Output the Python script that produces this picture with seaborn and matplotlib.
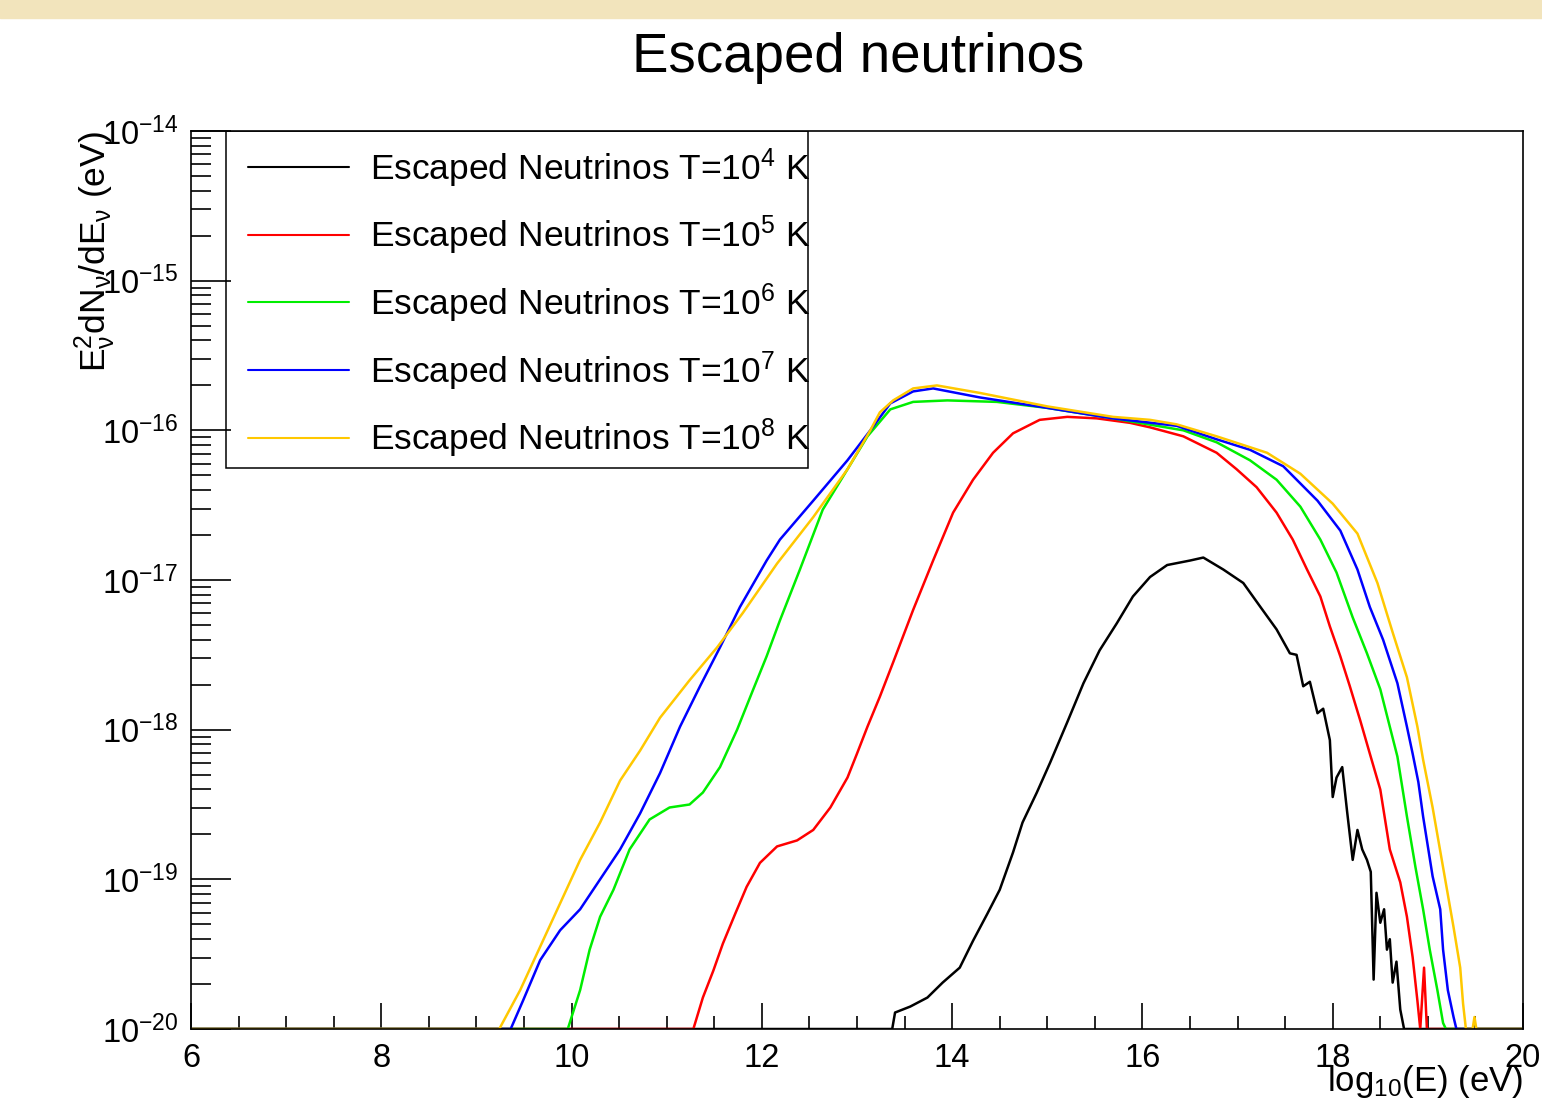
import numpy as np
import pandas as pd
import matplotlib
matplotlib.use("Agg")
import matplotlib.pyplot as plt
import seaborn as sns
from matplotlib.patches import Rectangle
from matplotlib.ticker import MultipleLocator, LogLocator, NullFormatter, LogFormatterSciNotation

# log10(E/eV) and log10(E^2 dN/dE / eV); nan = empty bin (drawn on the floor)
nan = np.nan

x_t4 = [6.0, 13.37, 13.40, 13.56, 13.74, 13.90, 14.08, 14.22, 14.37, 14.50, 14.64, 14.74, 14.89,
        15.03, 15.21, 15.38, 15.55, 15.73, 15.90, 16.08, 16.26, 16.50, 16.64, 16.85, 17.06, 17.24,
        17.41, 17.55, 17.62, 17.69, 17.76, 17.84, 17.90, 17.97, 18.00, 18.04, 18.10, 18.15, 18.21,
        18.26, 18.31, 18.36, 18.40, 18.43, 18.46, 18.50, 18.54, 18.57, 18.60, 18.63, 18.67, 18.71,
        18.75, 20.0]
y_t4 = [nan, nan, -19.89, -19.85, -19.79, -19.69, -19.59, -19.41, -19.23, -19.07, -18.82, -18.62, -18.42,
        -18.22, -17.95, -17.69, -17.47, -17.29, -17.11, -16.98, -16.90, -16.87, -16.85, -16.93, -17.02, -17.18,
        -17.33, -17.49, -17.50, -17.71, -17.68, -17.89, -17.86, -18.07, -18.45, -18.32, -18.25, -18.54, -18.87,
        -18.67, -18.80, -18.87, -18.95, -19.67, -19.09, -19.29, -19.20, -19.47, -19.40, -19.69, -19.55, -19.87,
        nan, nan]

x_t5 = [6.0, 11.28, 11.38, 11.49, 11.59, 11.72, 11.84, 11.98, 12.16, 12.37, 12.54, 12.72, 12.90,
        13.00, 13.11, 13.24, 13.38, 13.59, 13.80, 14.01, 14.22, 14.43, 14.64, 14.92, 15.21, 15.52,
        15.87, 16.08, 16.43, 16.78, 16.99, 17.20, 17.41, 17.58, 17.73, 17.87, 17.97, 18.08, 18.18,
        18.29, 18.39, 18.50, 18.60, 18.71, 18.78, 18.84, 18.89, 18.92, 18.96, 18.99, 20.0]
y_t5 = [nan, nan, -19.79, -19.61, -19.43, -19.23, -19.05, -18.89, -18.78, -18.74, -18.67, -18.52, -18.32,
        -18.16, -17.98, -17.78, -17.55, -17.20, -16.87, -16.55, -16.33, -16.15, -16.02, -15.93, -15.91, -15.92,
        -15.95, -15.98, -16.04, -16.15, -16.26, -16.38, -16.55, -16.73, -16.93, -17.11, -17.31, -17.51, -17.71,
        -17.94, -18.16, -18.40, -18.80, -19.02, -19.25, -19.52, -19.81, nan, -19.59, nan, nan]

x_t6 = [6.0, 9.96, 10.09, 10.19, 10.30, 10.44, 10.61, 10.82, 11.03, 11.24, 11.38, 11.56, 11.74,
        11.91, 12.05, 12.19, 12.40, 12.64, 12.90, 13.11, 13.35, 13.59, 13.95, 14.47, 15.00, 15.69,
        16.43, 16.78, 17.13, 17.41, 17.66, 17.87, 18.04, 18.21, 18.36, 18.50, 18.60, 18.68, 18.78,
        18.87, 18.95, 19.02, 19.10, 19.16, 19.19, 20.0]
y_t6 = [nan, nan, -19.74, -19.47, -19.25, -19.07, -18.80, -18.60, -18.52, -18.50, -18.42, -18.25, -18.00,
        -17.73, -17.51, -17.27, -16.93, -16.53, -16.26, -16.04, -15.86, -15.81, -15.80, -15.81, -15.85, -15.92,
        -16.00, -16.08, -16.20, -16.33, -16.51, -16.73, -16.95, -17.25, -17.49, -17.73, -17.98, -18.18, -18.58,
        -18.92, -19.20, -19.47, -19.74, -19.96, nan, nan]

x_t7 = [6.0, 9.36, 9.49, 9.67, 9.88, 10.09, 10.30, 10.51, 10.72, 10.93, 11.14, 11.35, 11.56,
        11.77, 12.05, 12.19, 12.54, 12.90, 13.14, 13.35, 13.59, 13.80, 14.29, 15.00, 15.69, 16.36,
        16.78, 17.13, 17.48, 17.84, 18.08, 18.26, 18.39, 18.53, 18.68, 18.78, 18.84, 18.90, 18.95,
        19.05, 19.13, 19.16, 19.21, 19.27, 19.30, 20.0]
y_t7 = [nan, nan, -19.81, -19.54, -19.34, -19.20, -19.00, -18.80, -18.56, -18.29, -17.98, -17.71, -17.45,
        -17.18, -16.87, -16.73, -16.47, -16.20, -16.00, -15.82, -15.74, -15.72, -15.78, -15.85, -15.92, -15.97,
        -16.06, -16.13, -16.24, -16.47, -16.67, -16.93, -17.18, -17.40, -17.69, -17.98, -18.16, -18.35, -18.58,
        -18.98, -19.20, -19.47, -19.74, -19.92, nan, nan]

x_t8 = [6.0, 9.24, 9.46, 9.67, 9.88, 10.09, 10.30, 10.51, 10.72, 10.93, 11.24, 11.53, 11.80,
        12.16, 12.54, 12.90, 13.14, 13.24, 13.38, 13.59, 13.84, 14.29, 15.00, 15.69, 16.08, 16.36,
        16.78, 17.31, 17.66, 18.00, 18.26, 18.47, 18.63, 18.78, 18.89, 18.95, 19.05, 19.16, 19.27,
        19.34, 19.37, 19.40, 19.47, 19.49, 19.51, 20.0]
y_t8 = [nan, nan, -19.74, -19.45, -19.16, -18.87, -18.62, -18.34, -18.14, -17.92, -17.67, -17.45, -17.22,
        -16.89, -16.58, -16.26, -16.00, -15.88, -15.80, -15.72, -15.70, -15.75, -15.84, -15.91, -15.93, -15.96,
        -16.04, -16.15, -16.29, -16.49, -16.69, -17.02, -17.35, -17.65, -17.98, -18.20, -18.52, -18.92, -19.32,
        -19.59, -19.83, nan, nan, -19.92, nan, nan]

labels = [r"Escaped Neutrinos T=10$^{4}$ K", r"Escaped Neutrinos T=10$^{5}$ K",
          r"Escaped Neutrinos T=10$^{6}$ K", r"Escaped Neutrinos T=10$^{7}$ K",
          r"Escaped Neutrinos T=10$^{8}$ K"]
colors = ["black", "#ff0000", "#00ee00", "#0000ff", "#ffc800"]
series = [(x_t4, y_t4), (x_t5, y_t5), (x_t6, y_t6), (x_t7, y_t7), (x_t8, y_t8)]

ymin, ymax = 1e-20, 1e-14

sns.set_style("ticks")
plt.rcParams["font.family"] = ["Liberation Sans", "DejaVu Sans"]
plt.rcParams["mathtext.fontset"] = "custom"
plt.rcParams["mathtext.rm"] = "Liberation Sans"
plt.rcParams["mathtext.it"] = "Liberation Sans:italic"
plt.rcParams["mathtext.bf"] = "Liberation Sans:bold"
plt.rcParams["mathtext.default"] = "regular"
for k in ["axes.edgecolor", "text.color", "axes.labelcolor", "xtick.color", "ytick.color"]:
    plt.rcParams[k] = "black"

fig = plt.figure(figsize=(15.42, 11.13), dpi=100)
fig.patches.append(Rectangle((0, 1 - 18 / 1113), 1, 18 / 1113, transform=fig.transFigure,
                             color="#f2e4bc", zorder=0))
ax = fig.add_axes([191 / 1542, 1 - 1029 / 1113, 1332 / 1542, 898 / 1113])
ax.set_yscale("log")

for (xs, ys), col, lab in zip(series, colors, labels):
    logy = np.nan_to_num(np.array(ys, float), nan=np.log10(ymin))
    df = pd.DataFrame({"logE": xs, "flux": 10.0 ** logy})
    sns.lineplot(data=df, x="logE", y="flux", color=col, lw=1.8, label=lab, ax=ax,
                 sort=False, estimator=None)

ax.set_xlim(6, 20)
ax.set_ylim(ymin, ymax)

ax.xaxis.set_major_locator(MultipleLocator(2))
ax.xaxis.set_minor_locator(MultipleLocator(0.5))
ax.yaxis.set_major_locator(LogLocator(base=10, numticks=20))
ax.yaxis.set_major_formatter(LogFormatterSciNotation())
ax.yaxis.set_minor_locator(LogLocator(base=10, subs=np.arange(2, 10), numticks=100))
ax.yaxis.set_minor_formatter(NullFormatter())
ax.tick_params(axis="x", which="major", direction="in", length=18.7, width=1.2, top=False,
               labelsize=23.5, pad=10)
ax.tick_params(axis="x", which="minor", direction="in", length=9.4, width=1.2, top=False)
ax.tick_params(axis="y", which="major", direction="in", length=29, width=1.2, right=False,
               labelsize=23.5, pad=9)
ax.tick_params(axis="y", which="minor", direction="in", length=14.5, width=1.2, right=False)
for s in ax.spines.values():
    s.set_linewidth(1.2)
    s.set_color("black")

ax.set_xlabel(r"log$_{10}$(E) (eV)", loc="right", fontsize=25)
ax.xaxis.set_label_coords(1.0, -0.038)
ax.set_ylabel(r"E$_{ν}^{2}$dN$_{ν}$/dE$_{ν}$ (eV)", loc="top", fontsize=25.5)
ax.yaxis.set_label_coords(-0.055, 1.0)

leg = ax.legend(loc="upper left", bbox_to_anchor=(0.0428, 0.983), frameon=False, fontsize=25.5,
                handlelength=2.85, handletextpad=0.6, labelspacing=0.68, borderpad=0, borderaxespad=0)
for h in leg.legend_handles:
    h.set_linewidth(1.5)
ax.add_patch(Rectangle((0.0263, 0.6247), 0.4369, 0.3753, transform=ax.transAxes, fill=False,
                       ec="black", lw=1.1, zorder=5))

fig.text(858 / 1542, 1 - 72 / 1113, "Escaped neutrinos", ha="center", va="baseline", fontsize=39.3)

fig.savefig("out.png", dpi=100)
